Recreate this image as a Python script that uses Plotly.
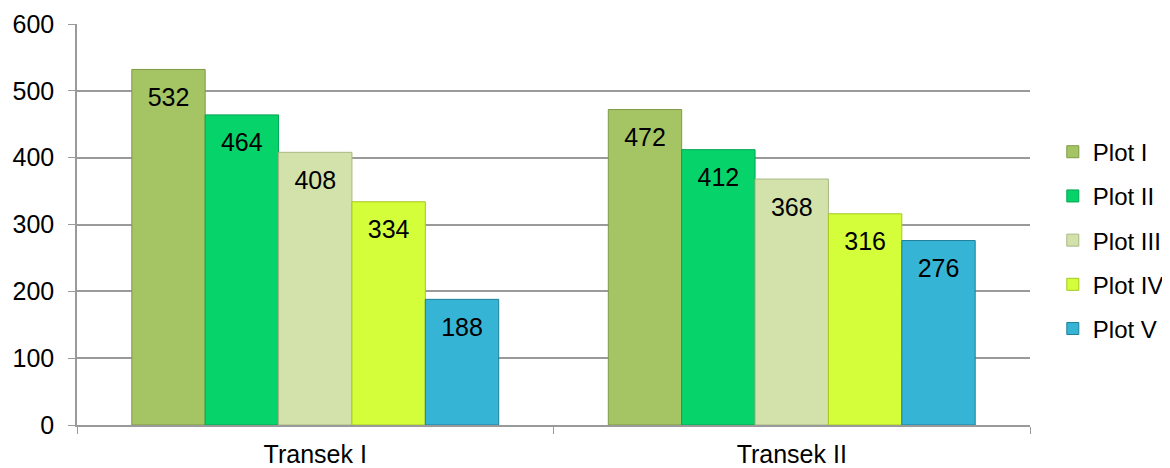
import plotly.graph_objects as go

categories = ["Transek I", "Transek II"]
series_names = ["Plot I", "Plot II", "Plot III", "Plot IV", "Plot V"]
plot_i = [532, 472]
plot_ii = [464, 412]
plot_iii = [408, 368]
plot_iv = [334, 316]
plot_v = [188, 276]
values = [plot_i, plot_ii, plot_iii, plot_iv, plot_v]

colors = ["#a5c463", "#06d46b", "#d3e1aa", "#d5fe3a", "#35b4d5"]
edges = ["#7e9a45", "#03a552", "#a9b886", "#a6c820", "#1f7f99"]

FONT = "Liberation Sans, Arial"

fig = go.Figure()
for name, vals, c, e in zip(series_names, values, colors, edges):
    fig.add_trace(go.Bar(
        x=categories, y=vals, name=name, legendgroup=name,
        marker=dict(color=c, line=dict(color=e, width=1)),
        text=["<span style='font-size:1px'> </span><br>" + str(v) for v in vals],
        textposition="inside", insidetextanchor="end", textangle=0,
        textfont=dict(size=25, color="black", family=FONT),
    ))

fig.update_layout(
    width=1170, height=468,
    margin=dict(l=69, r=148, t=16, b=51),
    barmode="group", bargap=0.23, bargroupgap=0,
    plot_bgcolor="white", paper_bgcolor="white",
    font=dict(family=FONT, size=25, color="black"),
    legend=dict(xref="container", yref="container", x=0.893, y=0.504,
                yanchor="middle", xanchor="left",
                font=dict(size=24), tracegroupgap=10, itemwidth=30),
    uniformtext=dict(mode="show", minsize=1),
)
fig.update_yaxes(range=[0, 600], dtick=100, showgrid=True, gridcolor="#9a9a9a",
                 gridwidth=1.5, showline=True, linecolor="#9a9a9a", linewidth=1.5,
                 ticks="outside", ticklen=7, tickcolor="#9a9a9a", zeroline=False,
                 tickfont=dict(size=25), automargin=False, ticklabelstandoff=9)
fig.update_xaxes(showline=True, linecolor="#9a9a9a", linewidth=1.5,
                 ticks="outside", tickson="boundaries", ticklen=7, tickcolor="#9a9a9a",
                 tickfont=dict(size=25), automargin=False, ticklabelstandoff=6)

fig.write_html("out.html")
